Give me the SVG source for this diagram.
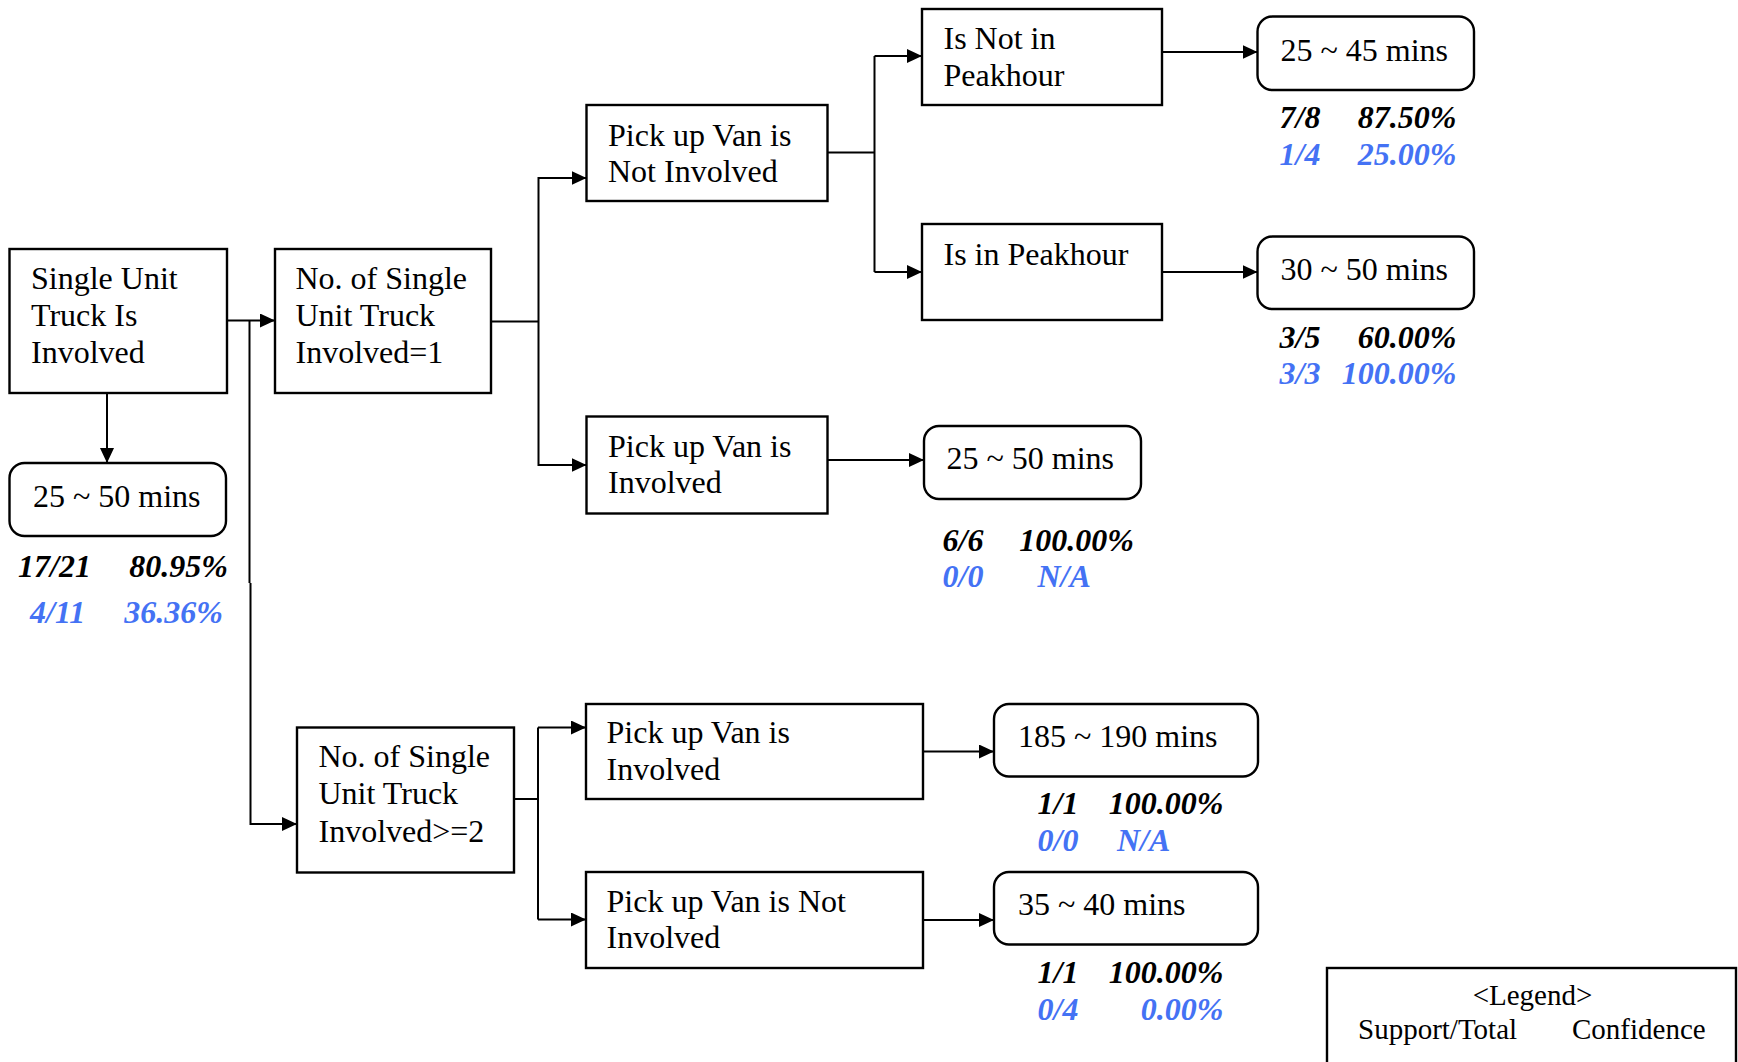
<svg xmlns="http://www.w3.org/2000/svg" width="1738" height="1062" viewBox="0 0 1738 1062">
  <defs>
    <style>
      .box { fill: #fff; stroke: #000; stroke-width: 2.4; }
      .lbl { font-family: "Liberation Serif", "Times New Roman", serif; font-size: 32px; fill: #000; }
      .st { font-family: "Liberation Serif", "Times New Roman", serif; font-size: 32px; font-weight: bold; font-style: italic; fill: #000; }
      .bl { fill: #4472F4; }
      .end { text-anchor: end; }
      .leg { font-family: "Liberation Serif", "Times New Roman", serif; font-size: 29px; fill: #000; }
      .wire { fill: none; stroke: #000; stroke-width: 2; }
    </style>
    <marker id="arr" markerUnits="userSpaceOnUse" markerWidth="16" markerHeight="16" refX="15" refY="7" orient="auto">
      <path d="M0,0 L15,7 L0,14 z" fill="#000"/>
    </marker>
  </defs>
  <rect width="1738" height="1062" fill="#fff"/>

  <!-- connectors -->
  <g id="connectors" class="wire">
    <line x1="227" y1="320.5" x2="275" y2="320.5" marker-end="url(#arr)"/>
    <polyline points="249.5,320.5 249.5,583"/>
    <polyline points="250.5,583 250.5,824 297,824" marker-end="url(#arr)"/>
    <line x1="107" y1="393" x2="107" y2="463" marker-end="url(#arr)"/>

    <line x1="491" y1="321.5" x2="538.5" y2="321.5"/>
    <polyline points="586.5,178 538.5,178 538.5,465 586.5,465" marker-start="none"/>
    <line x1="538.5" y1="178" x2="586.5" y2="178" marker-end="url(#arr)"/>
    <line x1="538.5" y1="465" x2="586.5" y2="465" marker-end="url(#arr)"/>

    <line x1="827" y1="152.5" x2="874.5" y2="152.5"/>
    <line x1="874.5" y1="56" x2="874.5" y2="272"/>
    <line x1="874.5" y1="56" x2="922" y2="56" marker-end="url(#arr)"/>
    <line x1="874.5" y1="272" x2="922" y2="272" marker-end="url(#arr)"/>

    <line x1="1162" y1="52" x2="1257.5" y2="52" marker-end="url(#arr)"/>
    <line x1="1162" y1="272" x2="1257.5" y2="272" marker-end="url(#arr)"/>
    <line x1="827" y1="460" x2="924" y2="460" marker-end="url(#arr)"/>

    <line x1="514" y1="799" x2="538" y2="799"/>
    <line x1="538" y1="727.5" x2="538" y2="919.5"/>
    <line x1="538" y1="727.5" x2="586" y2="727.5" marker-end="url(#arr)"/>
    <line x1="538" y1="919.5" x2="586" y2="919.5" marker-end="url(#arr)"/>

    <line x1="923" y1="751.5" x2="994" y2="751.5" marker-end="url(#arr)"/>
    <line x1="923" y1="920" x2="994" y2="920" marker-end="url(#arr)"/>
  </g>

  <!-- root condition -->
  <g id="n-single-unit">
    <rect class="box" x="9.5" y="249" width="217.5" height="144"/>
    <text class="lbl" x="31" y="289">Single Unit</text>
    <text class="lbl" x="31" y="326">Truck Is</text>
    <text class="lbl" x="31" y="363">Involved</text>
  </g>
  <g id="r-root">
    <rect class="box" x="9.5" y="463" width="216.5" height="73" rx="15"/>
    <text class="lbl" x="33" y="507">25 ~ 50 mins</text>
    <text class="st" x="18" y="577">17/21</text>
    <text class="st end" x="228" y="577">80.95%</text>
    <text class="st bl" x="30" y="623">4/11</text>
    <text class="st bl end" x="223" y="623">36.36%</text>
  </g>

  <!-- one single unit truck -->
  <g id="n-count-1">
    <rect class="box" x="275" y="249" width="216" height="144"/>
    <text class="lbl" x="295.5" y="289">No. of Single</text>
    <text class="lbl" x="295.5" y="326">Unit Truck</text>
    <text class="lbl" x="295.5" y="363">Involved=1</text>
  </g>
  <g id="n-van-not-1">
    <rect class="box" x="586.5" y="105" width="241" height="96"/>
    <text class="lbl" x="608" y="146">Pick up Van is</text>
    <text class="lbl" x="608" y="182">Not Involved</text>
  </g>
  <g id="n-not-peak">
    <rect class="box" x="922" y="9" width="240" height="96"/>
    <text class="lbl" x="943.5" y="49">Is Not in</text>
    <text class="lbl" x="943.5" y="86">Peakhour</text>
  </g>
  <g id="n-peak">
    <rect class="box" x="922" y="224" width="240" height="96"/>
    <text class="lbl" x="943.5" y="265">Is in Peakhour</text>
  </g>
  <g id="r-not-peak">
    <rect class="box" x="1257.5" y="16.5" width="216.5" height="73.5" rx="15"/>
    <text class="lbl" x="1280.5" y="61">25 ~ 45 mins</text>
    <text class="st" x="1279.5" y="128">7/8</text>
    <text class="st end" x="1456.5" y="128">87.50%</text>
    <text class="st bl" x="1279.5" y="165">1/4</text>
    <text class="st bl end" x="1456.5" y="165">25.00%</text>
  </g>
  <g id="r-peak">
    <rect class="box" x="1257.5" y="236.5" width="216.5" height="72.5" rx="15"/>
    <text class="lbl" x="1280.5" y="280">30 ~ 50 mins</text>
    <text class="st" x="1279.5" y="348">3/5</text>
    <text class="st end" x="1456.5" y="348">60.00%</text>
    <text class="st bl" x="1279.5" y="384">3/3</text>
    <text class="st bl end" x="1456.5" y="384">100.00%</text>
  </g>
  <g id="n-van-1">
    <rect class="box" x="586.5" y="416.5" width="241" height="97"/>
    <text class="lbl" x="608" y="457">Pick up Van is</text>
    <text class="lbl" x="608" y="493">Involved</text>
  </g>
  <g id="r-van-1">
    <rect class="box" x="924" y="426" width="217" height="73" rx="15"/>
    <text class="lbl" x="946.5" y="469">25 ~ 50 mins</text>
    <text class="st" x="942.5" y="551">6/6</text>
    <text class="st end" x="1134" y="551">100.00%</text>
    <text class="st bl" x="942.5" y="587">0/0</text>
    <text class="st bl" x="1037.5" y="587">N/A</text>
  </g>

  <!-- two or more single unit trucks -->
  <g id="n-count-2">
    <rect class="box" x="297" y="727.5" width="217" height="145"/>
    <text class="lbl" x="318.5" y="767">No. of Single</text>
    <text class="lbl" x="318.5" y="804">Unit Truck</text>
    <text class="lbl" x="318.5" y="842">Involved&gt;=2</text>
  </g>
  <g id="n-van-2">
    <rect class="box" x="586" y="704" width="337" height="95"/>
    <text class="lbl" x="606.5" y="743">Pick up Van is</text>
    <text class="lbl" x="606.5" y="780">Involved</text>
  </g>
  <g id="n-van-not-2">
    <rect class="box" x="586" y="872" width="337" height="96"/>
    <text class="lbl" x="606.5" y="912">Pick up Van is Not</text>
    <text class="lbl" x="606.5" y="948">Involved</text>
  </g>
  <g id="r-van-2">
    <rect class="box" x="994" y="704" width="264" height="72.5" rx="15"/>
    <text class="lbl" x="1018" y="747">185 ~ 190 mins</text>
    <text class="st" x="1037.5" y="814">1/1</text>
    <text class="st end" x="1223.5" y="814">100.00%</text>
    <text class="st bl" x="1037.5" y="851">0/0</text>
    <text class="st bl" x="1117" y="851">N/A</text>
  </g>
  <g id="r-van-not-2">
    <rect class="box" x="994" y="872" width="264" height="72.5" rx="15"/>
    <text class="lbl" x="1018" y="915">35 ~ 40 mins</text>
    <text class="st" x="1037.5" y="983">1/1</text>
    <text class="st end" x="1223.5" y="983">100.00%</text>
    <text class="st bl" x="1037.5" y="1020">0/4</text>
    <text class="st bl end" x="1223.5" y="1020">0.00%</text>
  </g>

  <!-- legend -->
  <g id="legend">
    <rect class="box" x="1327" y="968" width="409" height="120"/>
    <text class="leg" x="1532.5" y="1005" text-anchor="middle">&lt;Legend&gt;</text>
    <text class="leg" x="1358" y="1039">Support/Total</text>
    <text class="leg" x="1572" y="1039">Confidence</text>
  </g>
</svg>
